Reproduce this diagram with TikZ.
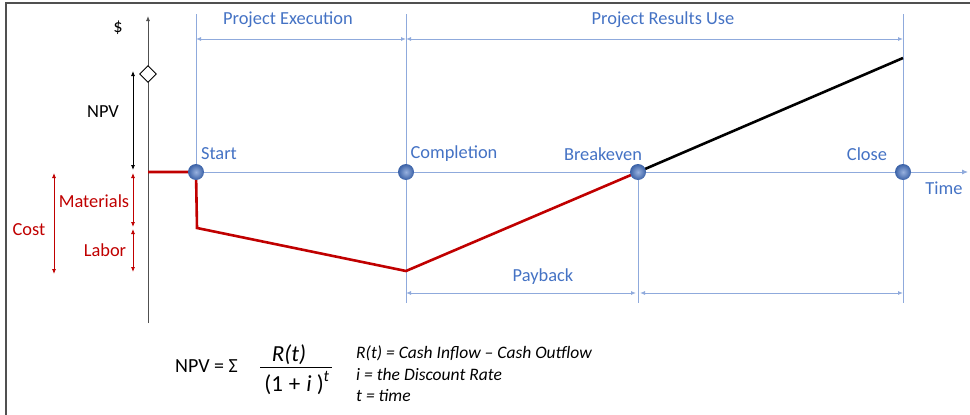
\documentclass[tikz,border=0pt]{standalone}
\usepackage{fontspec}
\setmainfont{Carlito}
\usetikzlibrary{arrows.meta,shapes.geometric}
\definecolor{tblue}{RGB}{68,114,196}
\definecolor{lblue}{RGB}{143,170,220}
\definecolor{cred}{RGB}{192,0,0}
\definecolor{frame}{RGB}{80,80,80}
\tikzset{
  lbl/.style={inner sep=0pt, font=\fontsize{18.4}{20}\selectfont},
  blbl/.style={lbl, text=tblue},
  rlbl/.style={lbl, text=cred},
  bline/.style={draw=lblue, line width=0.9pt},
  dim/.style={bline, {Latex[length=5pt,width=4pt]}-{Latex[length=5pt,width=4pt]}},
  reddim/.style={draw=cred, line width=0.8pt, {Latex[length=5pt,width=4pt]}-{Latex[length=5pt,width=4pt]}},
  blkdim/.style={draw=black, line width=0.8pt, {Latex[length=5pt,width=4pt]}-{Latex[length=5pt,width=4pt]}},
  dot/.style={circle, minimum size=16pt, inner sep=0pt, shading=radial, inner color=tblue!55!white, outer color=tblue!85!black},
  fml/.style={inner sep=0pt, font=\fontsize{20}{22}\selectfont},
  frac/.style={inner sep=0pt, font=\fontsize{23}{25}\selectfont},
  note/.style={inner sep=0pt, anchor=west, font=\fontsize{17.5}{19}\selectfont\itshape},
}
\begin{document}
\begin{tikzpicture}[x=1pt,y=-1pt]
\useasboundingbox (0,0) rectangle (970,415);
% frame
\draw[frame, line width=2pt] (6,415) -- (6,3) -- (970,3);

% coordinates
\coordinate (axb) at (148,323);
\coordinate (axt) at (148,16);
\coordinate (y0) at (148,172);
\coordinate (low1) at (197,228);
\coordinate (low2) at (406,271);
\coordinate (endp) at (903,58);
\coordinate (tend) at (968,172);
\coordinate (sTop) at (196,14);
\coordinate (cTop) at (406,14);
\coordinate (clTop) at (903,14);
\coordinate (cBot) at (406,303);
\coordinate (bBot) at (638,303);
\coordinate (clBot) at (903,303);

% vertical black axis
\draw[frame, line width=0.9pt, -{Latex[length=5pt,width=4pt]}] (axb) -- (axt);
\node[lbl] (dollar) at (118,28) {\$};
\node[diamond, draw=black, fill=white, line width=0.9pt, minimum size=17pt, inner sep=0pt] (dia) at (148,74) {};

% dot positions
\coordinate (start) at (196,172);
\coordinate (comp) at (406,172);
\coordinate (brk) at (638,172);
\coordinate (close) at (903,172);

% blue verticals
\draw[bline] (sTop) -- (start);
\draw[bline] (cTop) -- (cBot);
\draw[bline] (brk) -- (bBot);
\draw[bline] (clTop) -- (clBot);
% time axis
\draw[bline, -{Latex[length=6pt,width=5pt]}] (start) -- (tend);

% dimension arrows
\coordinate (d1a) at (196,39); \coordinate (d1b) at (406,39); \coordinate (d2b) at (903,39);
\draw[dim] (d1a) -- (d1b);
\draw[dim] (d1b) -- (d2b);
\coordinate (p1a) at (406,293); \coordinate (p1b) at (636,293); \coordinate (p2a) at (640,293); \coordinate (p2b) at (903,293);
\draw[dim] (p1a) -- (p1b);
\draw[dim] (p2a) -- (p2b);

% cash curve
\draw[cred, line width=2.6pt, line join=miter] (y0) -- (start) -- (low1) -- (low2) -- (brk);
\draw[black, line width=2.6pt] (brk) -- (endp);

% dots on top
\node[dot] (dstart) at (start) {};
\node[dot] (dcomp) at (comp) {};
\node[dot] (dbrk) at (brk) {};
\node[dot] (dclose) at (close) {};

% NPV / cost arrows
\coordinate (n1) at (133,71); \coordinate (n2) at (133,170);
\draw[blkdim] (n1) -- (n2);
\coordinate (m1) at (133,173); \coordinate (m2) at (133,227);
\coordinate (l1) at (133,229); \coordinate (l2) at (133,272);
\draw[reddim] (m1) -- (m2);
\draw[reddim] (l1) -- (l2);
\coordinate (c1) at (54,173); \coordinate (c2) at (54,274);
\draw[reddim] (c1) -- (c2);

% labels
\node[lbl] (npv) at (103,112) {NPV};
\node[rlbl] (mat) at (94,201) {Materials};
\node[rlbl] (cost) at (29,230) {Cost};
\node[rlbl] (lab) at (105,250) {Labor};
\node[blbl] (lstart) at (219,154) {Start};
\node[blbl] (lcomp) at (454,154) {Completion};
\node[blbl] (lbrk) at (603,154) {Breakeven};
\node[blbl] (lclose) at (867,154) {Close};
\node[blbl] (ltime) at (944,188) {Time};
\node[blbl] (lpe) at (288,20) {Project Execution};
\node[blbl] (lpr) at (663,20) {Project Results Use};
\node[blbl] (lpay) at (543,277) {Payback};

% formula
\node[fml, anchor=west] (f1) at (175,366) {NPV = Σ};
\node[frac] (num) at (289,355) {\itshape R(t)};
\coordinate (fb1) at (260,367); \coordinate (fb2) at (332,367);
\draw[black, line width=0.9pt] (fb1) -- (fb2);
\node[frac] (den) at (297,383) {(1\hspace{6pt}+\hspace{6pt}\textit{i}\hspace{5pt})\textsuperscript{\itshape t}};
\node[note] (n1t) at (356,353) {R(t) = Cash Inflow – Cash Outflow};
\node[note] (n2t) at (356,374) {i = the Discount Rate};
\node[note] (n3t) at (356,396) {t = time};
\end{tikzpicture}
\end{document}
